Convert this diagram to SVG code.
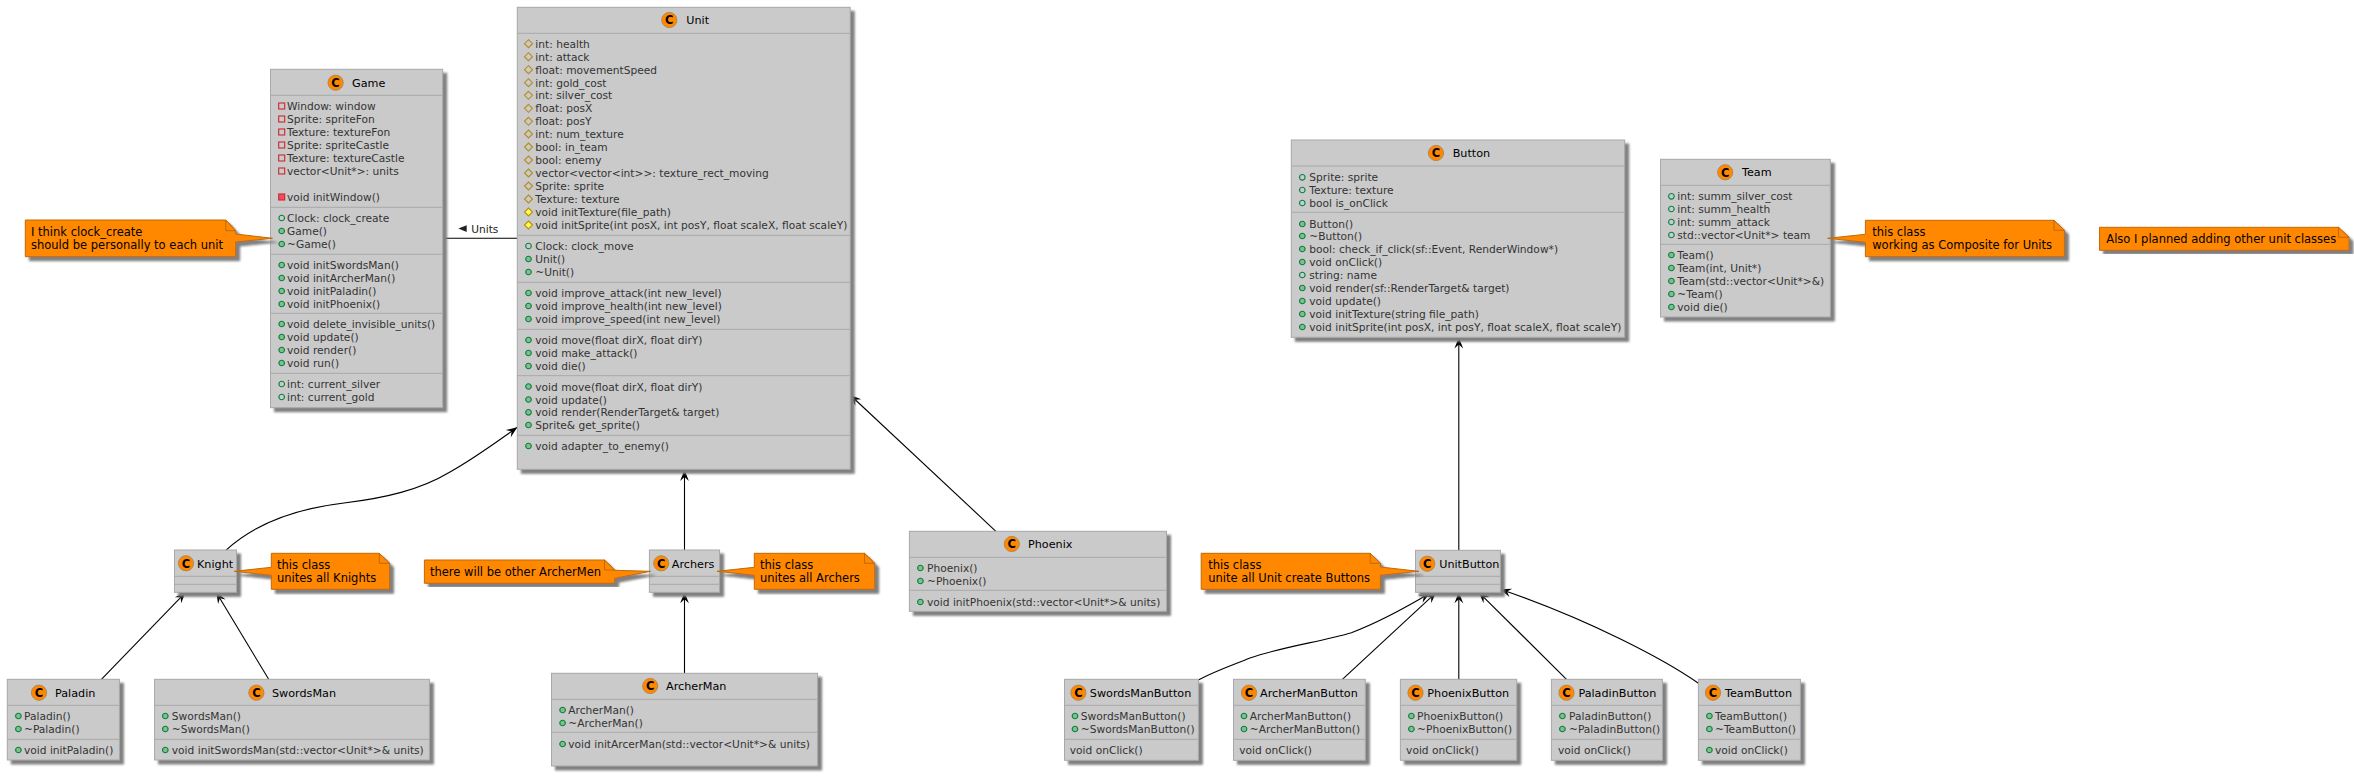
<svg xmlns="http://www.w3.org/2000/svg" xmlns:xlink="http://www.w3.org/1999/xlink" width="2354" height="779" viewBox="0 0 2354 779">
<style>
text{font-family:"DejaVu Sans","Liberation Sans",sans-serif;}
.b{fill:#CACACA;stroke:#A8A8A8;stroke-width:1;filter:url(#sh);}
.s{stroke:#A8A8A8;stroke-width:1;fill:none;}
.t{font-size:10.65px;fill:#333333;}
.ti{font-size:11.2px;fill:#000000;}
.c{font-size:11.5px;font-weight:bold;fill:#000000;text-anchor:middle;}
.n{fill:#FF8800;stroke:#C06A08;stroke-width:1;filter:url(#sh);}
.f{fill:#FF8800;stroke:#C06A08;stroke-width:1;}
.nt{font-size:11.5px;fill:#000000;}
.e{fill:none;stroke:#000000;stroke-width:1.1;marker-end:url(#ah);}
.l{font-size:10.6px;fill:#222222;}
</style>
<defs>
<filter id="sh" x="-10%" y="-10%" width="125%" height="125%"><feDropShadow dx="4" dy="4" stdDeviation="1.1" flood-color="#808080" flood-opacity="1"/></filter>
<marker id="ah" markerUnits="userSpaceOnUse" markerWidth="14" markerHeight="12" refX="12" refY="6" orient="auto"><path d="M12,6 L1,1.6 L5,6 L1,10.4 Z" fill="#000000"/></marker>
<circle id="ic" r="7.6" fill="#FF8800" stroke="#B08A50" stroke-width="1"/>
<circle id="pf" r="2.8" fill="none" stroke="#038048" stroke-width="1.1"/>
<circle id="pm" r="2.8" fill="#84BE84" stroke="#038048" stroke-width="1.1"/>
<rect id="rf" x="-3" y="-3" width="6" height="6" fill="none" stroke="#C82930" stroke-width="1.1"/>
<rect id="rm" x="-3" y="-3" width="6" height="6" fill="#F24D5C" stroke="#C82930" stroke-width="1.1"/>
<path id="df" d="M0,-4 L4,0 L0,4 L-4,0 Z" fill="none" stroke="#B38D22" stroke-width="1.1"/>
<path id="dm" d="M0,-4 L4,0 L0,4 L-4,0 Z" fill="#FFFF44" stroke="#B38D22" stroke-width="1.1"/>
</defs>

<g id="connectors">
<line x1="442.7" y1="238.3" x2="517.3" y2="238.3" stroke="#000000" stroke-width="1.1"/>
<path d="M466.7,225.3 L458.3,228.6 L466.7,232 Z" fill="#222222"/>
<text class="l" x="471.3" y="232.7">Units</text>
<path class="e" d="M225.8,550.3 C262,517 310,507 344,503 C385,498 420,490 450,472 C475,458 495,443 517.3,427.3"/>
<path class="e" d="M101.4,679.3 L185.6,592.3"/>
<path class="e" d="M268.7,679.3 L216.2,592.3"/>
<path class="e" d="M684.5,550 L684.5,470"/>
<path class="e" d="M684.5,673.3 L684.5,592.3"/>
<path class="e" d="M995.9,531.3 L850.2,395"/>
<path class="e" d="M1458.8,550.3 L1458.8,337.6"/>
<path class="e" d="M1198.4,680 C1215,671 1233,665 1250,658 C1285,646 1320,642 1351.4,632.7 C1380,622 1405,608 1429.8,593.3"/>
<path class="e" d="M1342.4,679.3 L1436.3,592.3"/>
<path class="e" d="M1458.8,679.3 L1458.8,592.3"/>
<path class="e" d="M1566.5,679.3 L1478.8,592.3"/>
<path class="e" d="M1698.4,683.3 C1665,660 1590,620 1500.4,589.3"/>
</g>

<g id="game">
<rect class="b" x="270.5" y="69.3" width="172.2" height="338.4"/>
<path class="s" d="M270.5,95.3H442.7M270.5,207.3H442.7M270.5,254.3H442.7M270.5,313.3H442.7M270.5,373.3H442.7"/>
<use xlink:href="#ic" x="335.6" y="82.7"/><text class="c" x="335.6" y="86.9">C</text><text class="ti" x="352" y="86.9">Game</text>
<use xlink:href="#rf" x="281.7" y="106"/><text class="t" x="287" y="109.5">Window: window</text>
<use xlink:href="#rf" x="281.7" y="119"/><text class="t" x="287" y="122.5">Sprite: spriteFon</text>
<use xlink:href="#rf" x="281.7" y="132"/><text class="t" x="287" y="135.5">Texture: textureFon</text>
<use xlink:href="#rf" x="281.7" y="145"/><text class="t" x="287" y="148.5">Sprite: spriteCastle</text>
<use xlink:href="#rf" x="281.7" y="158"/><text class="t" x="287" y="161.5">Texture: textureCastle</text>
<use xlink:href="#rf" x="281.7" y="171"/><text class="t" x="287" y="174.5">vector&lt;Unit*&gt;: units</text>
<use xlink:href="#rm" x="281.7" y="197"/><text class="t" x="287" y="200.5">void initWindow()</text>
<use xlink:href="#pf" x="281.7" y="218"/><text class="t" x="287" y="221.5">Clock: clock_create</text>
<use xlink:href="#pm" x="281.7" y="231"/><text class="t" x="287" y="234.5">Game()</text>
<use xlink:href="#pm" x="281.7" y="244"/><text class="t" x="287" y="247.5">~Game()</text>
<use xlink:href="#pm" x="281.7" y="265"/><text class="t" x="287" y="268.5">void initSwordsMan()</text>
<use xlink:href="#pm" x="281.7" y="278"/><text class="t" x="287" y="281.5">void initArcherMan()</text>
<use xlink:href="#pm" x="281.7" y="291"/><text class="t" x="287" y="294.5">void initPaladin()</text>
<use xlink:href="#pm" x="281.7" y="304"/><text class="t" x="287" y="307.5">void initPhoenix()</text>
<use xlink:href="#pm" x="281.7" y="324"/><text class="t" x="287" y="327.5">void delete_invisible_units()</text>
<use xlink:href="#pm" x="281.7" y="337"/><text class="t" x="287" y="340.5">void update()</text>
<use xlink:href="#pm" x="281.7" y="350"/><text class="t" x="287" y="353.5">void render()</text>
<use xlink:href="#pm" x="281.7" y="363"/><text class="t" x="287" y="366.5">void run()</text>
<use xlink:href="#pf" x="281.7" y="384"/><text class="t" x="287" y="387.5">int: current_silver</text>
<use xlink:href="#pf" x="281.7" y="397"/><text class="t" x="287" y="400.5">int: current_gold</text>
</g>

<g id="note-game">
<path class="n" d="M25.3,220 H225.8 L235.7,230.7 V234 L272.5,238.3 L235.7,242 V256.7 H25.3 Z"/>
<path class="f" d="M225.8,220 V230.7 H235.7 Z"/>
<text class="nt" x="31" y="236">I think clock_create</text>
<text class="nt" x="31" y="249">should be personally to each unit</text>
</g>

<g id="unit">
<rect class="b" x="517.3" y="7.3" width="332.9" height="462"/>
<path class="s" d="M517.3,33.3H850.2M517.3,235.3H850.2M517.3,282.3H850.2M517.3,329.3H850.2M517.3,375.7H850.2M517.3,435.3H850.2"/>
<use xlink:href="#ic" x="669.3" y="20"/><text class="c" x="669.3" y="24.2">C</text><text class="ti" x="686.3" y="24">Unit</text>
<use xlink:href="#df" x="528.5" y="43.7"/><text class="t" x="535.3" y="47.7">int: health</text>
<use xlink:href="#df" x="528.5" y="56.7"/><text class="t" x="535.3" y="60.7">int: attack</text>
<use xlink:href="#df" x="528.5" y="69.7"/><text class="t" x="535.3" y="73.7">float: movementSpeed</text>
<use xlink:href="#df" x="528.5" y="82.7"/><text class="t" x="535.3" y="86.7">int: gold_cost</text>
<use xlink:href="#df" x="528.5" y="95.3"/><text class="t" x="535.3" y="99.3">int: silver_cost</text>
<use xlink:href="#df" x="528.5" y="108.3"/><text class="t" x="535.3" y="112.3">float: posX</text>
<use xlink:href="#df" x="528.5" y="121.3"/><text class="t" x="535.3" y="125.3">float: posY</text>
<use xlink:href="#df" x="528.5" y="134"/><text class="t" x="535.3" y="138">int: num_texture</text>
<use xlink:href="#df" x="528.5" y="147"/><text class="t" x="535.3" y="151">bool: in_team</text>
<use xlink:href="#df" x="528.5" y="160"/><text class="t" x="535.3" y="164">bool: enemy</text>
<use xlink:href="#df" x="528.5" y="173"/><text class="t" x="535.3" y="177">vector&lt;vector&lt;int&gt;&gt;: texture_rect_moving</text>
<use xlink:href="#df" x="528.5" y="186"/><text class="t" x="535.3" y="190">Sprite: sprite</text>
<use xlink:href="#df" x="528.5" y="199"/><text class="t" x="535.3" y="203">Texture: texture</text>
<use xlink:href="#dm" x="528.5" y="212"/><text class="t" x="535.3" y="216">void initTexture(file_path)</text>
<use xlink:href="#dm" x="528.5" y="225"/><text class="t" x="535.3" y="229">void initSprite(int posX, int posY, float scaleX, float scaleY)</text>
<use xlink:href="#pf" x="528.5" y="246"/><text class="t" x="535.3" y="250">Clock: clock_move</text>
<use xlink:href="#pm" x="528.5" y="259"/><text class="t" x="535.3" y="263">Unit()</text>
<use xlink:href="#pm" x="528.5" y="272"/><text class="t" x="535.3" y="276">~Unit()</text>
<use xlink:href="#pm" x="528.5" y="293"/><text class="t" x="535.3" y="297">void improve_attack(int new_level)</text>
<use xlink:href="#pm" x="528.5" y="306"/><text class="t" x="535.3" y="310">void improve_health(int new_level)</text>
<use xlink:href="#pm" x="528.5" y="319"/><text class="t" x="535.3" y="323">void improve_speed(int new_level)</text>
<use xlink:href="#pm" x="528.5" y="340"/><text class="t" x="535.3" y="344">void move(float dirX, float dirY)</text>
<use xlink:href="#pm" x="528.5" y="353"/><text class="t" x="535.3" y="357">void make_attack()</text>
<use xlink:href="#pm" x="528.5" y="366"/><text class="t" x="535.3" y="370">void die()</text>
<use xlink:href="#pm" x="528.5" y="386.5"/><text class="t" x="535.3" y="390.5">void move(float dirX, float dirY)</text>
<use xlink:href="#pm" x="528.5" y="399.5"/><text class="t" x="535.3" y="403.5">void update()</text>
<use xlink:href="#pm" x="528.5" y="412.3"/><text class="t" x="535.3" y="416.3">void render(RenderTarget&amp; target)</text>
<use xlink:href="#pm" x="528.5" y="425"/><text class="t" x="535.3" y="429">Sprite&amp; get_sprite()</text>
<use xlink:href="#pm" x="528.5" y="446"/><text class="t" x="535.3" y="450">void adapter_to_enemy()</text>
</g>

<g id="knight">
<rect class="b" x="174.5" y="550" width="62" height="42.3"/>
<path class="s" d="M174.5,576.3H236.5M174.5,584.3H236.5"/>
<use xlink:href="#ic" x="186" y="563.3"/><text class="c" x="186" y="567.5">C</text><text class="ti" x="197" y="567.5">Knight</text>
</g>
<g id="note-knight">
<path class="n" d="M271.3,553.3 H379.3 L389.6,563.3 V589.3 H271.3 V575.3 L234.2,571.3 L271.3,567.3 Z"/>
<path class="f" d="M379.3,553.3 V563.3 H389.6 Z"/>
<text class="nt" x="277" y="569">this class</text>
<text class="nt" x="277" y="582">unites all Knights</text>
</g>

<g id="archers">
<rect class="b" x="649.4" y="550" width="70.2" height="42.3"/>
<path class="s" d="M649.4,576.3H719.6M649.4,584.3H719.6"/>
<use xlink:href="#ic" x="661.2" y="563.3"/><text class="c" x="661.2" y="567.5">C</text><text class="ti" x="671.8" y="567.5">Archers</text>
</g>
<g id="note-archermen">
<path class="n" d="M424.4,560 H604.5 L614.7,570 V570.3 L650.6,571.3 L614.7,578.3 V583.3 H424.4 Z"/>
<path class="f" d="M604.5,560 V570 H614.7 Z"/>
<text class="nt" x="430" y="576">there will be other ArcherMen</text>
</g>
<g id="note-archers">
<path class="n" d="M754.3,553.3 H864.5 L874.7,563.3 V589.3 H754.3 V575.3 L717,571.3 L754.3,567.3 Z"/>
<path class="f" d="M864.5,553.3 V563.3 H874.7 Z"/>
<text class="nt" x="760" y="569">this class</text>
<text class="nt" x="760" y="582">unites all Archers</text>
</g>

<g id="phoenix">
<rect class="b" x="909.4" y="531.3" width="257.1" height="80"/>
<path class="s" d="M909.4,557.3H1166.5M909.4,590.3H1166.5"/>
<use xlink:href="#ic" x="1011.8" y="544"/><text class="c" x="1011.8" y="548.2">C</text><text class="ti" x="1028" y="548">Phoenix</text>
<use xlink:href="#pm" x="920.4" y="568"/><text class="t" x="927" y="572">Phoenix()</text>
<use xlink:href="#pm" x="920.4" y="581"/><text class="t" x="927" y="585">~Phoenix()</text>
<use xlink:href="#pm" x="920.4" y="602"/><text class="t" x="927" y="606">void initPhoenix(std::vector&lt;Unit*&gt;&amp; units)</text>
</g>

<g id="archerman">
<rect class="b" x="551.5" y="673.3" width="266.1" height="92.7"/>
<path class="s" d="M551.5,699.3H817.6M551.5,732.3H817.6"/>
<use xlink:href="#ic" x="650.2" y="686"/><text class="c" x="650.2" y="690.2">C</text><text class="ti" x="666" y="690">ArcherMan</text>
<use xlink:href="#pm" x="562.6" y="710"/><text class="t" x="568.3" y="714">ArcherMan()</text>
<use xlink:href="#pm" x="562.6" y="723"/><text class="t" x="568.3" y="727">~ArcherMan()</text>
<use xlink:href="#pm" x="562.6" y="744"/><text class="t" x="568.3" y="748">void initArcerMan(std::vector&lt;Unit*&gt;&amp; units)</text>
</g>

<g id="paladin">
<rect class="b" x="7.3" y="679.3" width="112.1" height="80.7"/>
<path class="s" d="M7.3,705.3H119.4M7.3,739.3H119.4"/>
<use xlink:href="#ic" x="39" y="692.7"/><text class="c" x="39" y="696.9">C</text><text class="ti" x="55" y="696.7">Paladin</text>
<use xlink:href="#pm" x="18.4" y="716"/><text class="t" x="24" y="720">Paladin()</text>
<use xlink:href="#pm" x="18.4" y="729"/><text class="t" x="24" y="733">~Paladin()</text>
<use xlink:href="#pm" x="18.4" y="750"/><text class="t" x="24" y="754">void initPaladin()</text>
</g>

<g id="swordsman">
<rect class="b" x="154.6" y="679.3" width="274.8" height="80.7"/>
<path class="s" d="M154.6,705.3H429.4M154.6,739.3H429.4"/>
<use xlink:href="#ic" x="256.4" y="692.7"/><text class="c" x="256.4" y="696.9">C</text><text class="ti" x="272" y="696.7">SwordsMan</text>
<use xlink:href="#pm" x="165.3" y="716"/><text class="t" x="171.8" y="720">SwordsMan()</text>
<use xlink:href="#pm" x="165.3" y="729"/><text class="t" x="171.8" y="733">~SwordsMan()</text>
<use xlink:href="#pm" x="165.3" y="750"/><text class="t" x="171.8" y="754">void initSwordsMan(std::vector&lt;Unit*&gt;&amp; units)</text>
</g>

<g id="button">
<rect class="b" x="1291.3" y="140" width="333.4" height="197.3"/>
<path class="s" d="M1291.3,166H1624.7M1291.3,212.3H1624.7"/>
<use xlink:href="#ic" x="1436" y="153"/><text class="c" x="1436" y="157.2">C</text><text class="ti" x="1452.7" y="157">Button</text>
<use xlink:href="#pf" x="1302.3" y="177.3"/><text class="t" x="1309.3" y="181.3">Sprite: sprite</text>
<use xlink:href="#pf" x="1302.3" y="190"/><text class="t" x="1309.3" y="194">Texture: texture</text>
<use xlink:href="#pf" x="1302.3" y="203"/><text class="t" x="1309.3" y="207">bool is_onClick</text>
<use xlink:href="#pm" x="1302.3" y="224"/><text class="t" x="1309.3" y="228">Button()</text>
<use xlink:href="#pm" x="1302.3" y="236"/><text class="t" x="1309.3" y="240">~Button()</text>
<use xlink:href="#pm" x="1302.3" y="249"/><text class="t" x="1309.3" y="253">bool: check_if_click(sf::Event, RenderWindow*)</text>
<use xlink:href="#pm" x="1302.3" y="262"/><text class="t" x="1309.3" y="266">void onClick()</text>
<use xlink:href="#pf" x="1302.3" y="275"/><text class="t" x="1309.3" y="279">string: name</text>
<use xlink:href="#pm" x="1302.3" y="288"/><text class="t" x="1309.3" y="292">void render(sf::RenderTarget&amp; target)</text>
<use xlink:href="#pm" x="1302.3" y="301"/><text class="t" x="1309.3" y="305">void update()</text>
<use xlink:href="#pm" x="1302.3" y="314"/><text class="t" x="1309.3" y="318">void initTexture(string file_path)</text>
<use xlink:href="#pm" x="1302.3" y="327"/><text class="t" x="1309.3" y="331">void initSprite(int posX, int posY, float scaleX, float scaleY)</text>
</g>

<g id="team">
<rect class="b" x="1660.5" y="159.3" width="169.8" height="157.7"/>
<path class="s" d="M1660.5,185.3H1830.3M1660.5,244.3H1830.3"/>
<use xlink:href="#ic" x="1725.2" y="172.3"/><text class="c" x="1725.2" y="176.5">C</text><text class="ti" x="1742" y="176.3">Team</text>
<use xlink:href="#pf" x="1671.4" y="196.3"/><text class="t" x="1677.3" y="200.3">int: summ_silver_cost</text>
<use xlink:href="#pf" x="1671.4" y="209"/><text class="t" x="1677.3" y="213">int: summ_health</text>
<use xlink:href="#pf" x="1671.4" y="222"/><text class="t" x="1677.3" y="226">int: summ_attack</text>
<use xlink:href="#pf" x="1671.4" y="235"/><text class="t" x="1677.3" y="239">std::vector&lt;Unit*&gt; team</text>
<use xlink:href="#pm" x="1671.4" y="255"/><text class="t" x="1677.3" y="259">Team()</text>
<use xlink:href="#pm" x="1671.4" y="268"/><text class="t" x="1677.3" y="272">Team(int, Unit*)</text>
<use xlink:href="#pm" x="1671.4" y="281"/><text class="t" x="1677.3" y="285">Team(std::vector&lt;Unit*&gt;&amp;)</text>
<use xlink:href="#pm" x="1671.4" y="294"/><text class="t" x="1677.3" y="298">~Team()</text>
<use xlink:href="#pm" x="1671.4" y="307"/><text class="t" x="1677.3" y="311">void die()</text>
</g>
<g id="note-team">
<path class="n" d="M1865.4,220.3 H2054 L2064.4,230.3 V256.7 H1865.4 V242.3 L1827.6,238.3 L1865.4,234.3 Z"/>
<path class="f" d="M2054,220.3 V230.3 H2064.4 Z"/>
<text class="nt" x="1872.2" y="236.3">this class</text>
<text class="nt" x="1872.2" y="249.3">working as Composite for Units</text>
</g>
<g id="note-also">
<path class="n" d="M2099.5,227.3 H2338.5 L2349,237.3 V250.3 H2099.5 Z"/>
<path class="f" d="M2338.5,227.3 V237.3 H2349 Z"/>
<text class="nt" x="2106.3" y="243.3">Also I planned adding other unit classes</text>
</g>

<g id="unitbutton">
<rect class="b" x="1415.5" y="550.3" width="84.9" height="42"/>
<path class="s" d="M1415.5,576.3H1500.4M1415.5,584.3H1500.4"/>
<use xlink:href="#ic" x="1427.3" y="563.7"/><text class="c" x="1427.3" y="567.9">C</text><text class="ti" x="1439.2" y="567.7">UnitButton</text>
</g>
<g id="note-unitbutton">
<path class="n" d="M1201.2,553.3 H1370.2 L1380.4,563.3 V567 L1418.8,571.3 L1380.4,575.3 V589.3 H1201.2 Z"/>
<path class="f" d="M1370.2,553.3 V563.3 H1380.4 Z"/>
<text class="nt" x="1208.2" y="569">this class</text>
<text class="nt" x="1208.2" y="582">unite all Unit create Buttons</text>
</g>

<g id="swordsmanbutton">
<rect class="b" x="1064.5" y="679.3" width="133.9" height="81"/>
<path class="s" d="M1064.5,705.3H1198.4M1064.5,739.3H1198.4"/>
<use xlink:href="#ic" x="1078.4" y="692.7"/><text class="c" x="1078.4" y="696.9">C</text><text class="ti" x="1089.8" y="696.7">SwordsManButton</text>
<use xlink:href="#pm" x="1075" y="716"/><text class="t" x="1080.8" y="720">SwordsManButton()</text>
<use xlink:href="#pm" x="1075" y="729"/><text class="t" x="1080.8" y="733">~SwordsManButton()</text>
<text class="t" x="1069.8" y="754">void onClick()</text>
</g>
<g id="archermanbutton">
<rect class="b" x="1233.5" y="679.3" width="131.8" height="81"/>
<path class="s" d="M1233.5,705.3H1365.3M1233.5,739.3H1365.3"/>
<use xlink:href="#ic" x="1249" y="692.7"/><text class="c" x="1249" y="696.9">C</text><text class="ti" x="1260" y="696.7">ArcherManButton</text>
<use xlink:href="#pm" x="1244" y="716"/><text class="t" x="1249.8" y="720">ArcherManButton()</text>
<use xlink:href="#pm" x="1244" y="729"/><text class="t" x="1249.8" y="733">~ArcherManButton()</text>
<text class="t" x="1239.2" y="754">void onClick()</text>
</g>
<g id="phoenixbutton">
<rect class="b" x="1400.4" y="679.3" width="116.3" height="81"/>
<path class="s" d="M1400.4,705.3H1516.7M1400.4,739.3H1516.7"/>
<use xlink:href="#ic" x="1415.5" y="692.7"/><text class="c" x="1415.5" y="696.9">C</text><text class="ti" x="1427.3" y="696.7">PhoenixButton</text>
<use xlink:href="#pm" x="1411.4" y="716"/><text class="t" x="1417.1" y="720">PhoenixButton()</text>
<use xlink:href="#pm" x="1411.4" y="729"/><text class="t" x="1417.1" y="733">~PhoenixButton()</text>
<text class="t" x="1406.1" y="754">void onClick()</text>
</g>
<g id="paladinbutton">
<rect class="b" x="1551.4" y="679.3" width="111" height="81"/>
<path class="s" d="M1551.4,705.3H1662.4M1551.4,739.3H1662.4"/>
<use xlink:href="#ic" x="1566.5" y="692.7"/><text class="c" x="1566.5" y="696.9">C</text><text class="ti" x="1578.4" y="696.7">PaladinButton</text>
<use xlink:href="#pm" x="1562.4" y="716"/><text class="t" x="1569" y="720">PaladinButton()</text>
<use xlink:href="#pm" x="1562.4" y="729"/><text class="t" x="1569" y="733">~PaladinButton()</text>
<text class="t" x="1558" y="754">void onClick()</text>
</g>
<g id="teambutton">
<rect class="b" x="1698.4" y="679.3" width="102" height="81"/>
<path class="s" d="M1698.4,705.3H1800.4M1698.4,739.3H1800.4"/>
<use xlink:href="#ic" x="1713" y="692.7"/><text class="c" x="1713" y="696.9">C</text><text class="ti" x="1725" y="696.7">TeamButton</text>
<use xlink:href="#pm" x="1709.4" y="716"/><text class="t" x="1715" y="720">TeamButton()</text>
<use xlink:href="#pm" x="1709.4" y="729"/><text class="t" x="1715" y="733">~TeamButton()</text>
<use xlink:href="#pm" x="1709.4" y="750"/><text class="t" x="1715" y="754">void onClick()</text>
</g>
</svg>
